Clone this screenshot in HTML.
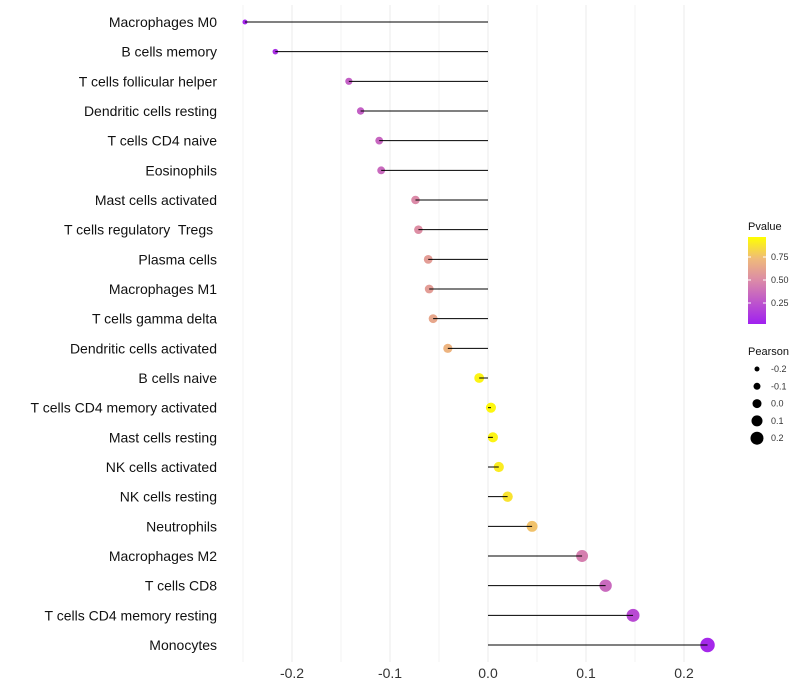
<!DOCTYPE html>
<html><head><meta charset="utf-8"><style>
body{margin:0;background:#fff;font-family:"Liberation Sans",sans-serif}
svg{display:block}
text{white-space:pre}
</style></head><body>
<svg id="c" width="800" height="700" xmlns="http://www.w3.org/2000/svg" xml:space="preserve">
<defs><linearGradient id="pg" x1="0" y1="1" x2="0" y2="0">
<stop offset="0" stop-color="#a020f0"/><stop offset="0.5" stop-color="#db8aa8"/><stop offset="0.75" stop-color="#efba7a"/><stop offset="1" stop-color="#ffff00"/></linearGradient></defs>
</svg>
<script>
const categories=["Macrophages M0","B cells memory","T cells follicular helper","Dendritic cells resting","T cells CD4 naive","Eosinophils","Mast cells activated","T cells regulatory  Tregs ","Plasma cells","Macrophages M1","T cells gamma delta","Dendritic cells activated","B cells naive","T cells CD4 memory activated","Mast cells resting","NK cells activated","NK cells resting","Neutrophils","Macrophages M2","T cells CD8","T cells CD4 memory resting","Monocytes"];
const pearson=[-0.248,-0.217,-0.142,-0.130,-0.111,-0.109,-0.074,-0.071,-0.061,-0.060,-0.056,-0.041,-0.009,0.003,0.005,0.011,0.020,0.045,0.096,0.120,0.148,0.224];
const pvalues=[0.03,0.08,0.3,0.3,0.33,0.35,0.5,0.52,0.6,0.6,0.65,0.72,0.96,0.97,0.96,0.93,0.9,0.78,0.45,0.35,0.2,0.04];
const xTicks=[-0.2,-0.1,0.0,0.1,0.2];
const xMinor=[-0.25,-0.15,-0.05,0.05,0.15];
const legP=[0.25,0.5,0.75];
const legR=[-0.2,-0.1,0.0,0.1,0.2];
const svg=document.getElementById('c');const NS="http://www.w3.org/2000/svg";
function X(v){return 488+v*980;}
function Y(i){return 22+i*29.667;}
function R(v){return 5+v*10;}
function PY(p){return 326-p*92;}
const stops=[[0,[160,32,240]],[0.5,[219,138,168]],[0.75,[239,186,122]],[1,[255,255,0]]];
function col(p){for(let i=1;i<stops.length;i++){if(p<=stops[i][0]){const a=stops[i-1],b=stops[i],t=(p-a[0])/(b[0]-a[0]);return 'rgb('+a[1].map((c,k)=>Math.round(c+(b[1][k]-c)*t)).join(',')+')';}}return 'rgb(255,255,0)';}
function el(t,a,txt){const e=document.createElementNS(NS,t);for(const k in a)e.setAttribute(k,a[k]);if(txt!==undefined)e.textContent=txt;svg.appendChild(e);return e;}
xMinor.forEach(v=>{const g=el('line',{x1:X(v),x2:X(v),y1:5,y2:662,stroke:'#f3f3f3','stroke-width':1});

});
xTicks.forEach(v=>{const g=el('line',{x1:X(v),x2:X(v),y1:5,y2:662,stroke:'#ebebeb','stroke-width':1});


const t=el('text',{x:X(v),y:678,'text-anchor':'middle','font-size':14,fill:'#333'},v.toFixed(1));

});
categories.forEach((c,i)=>{const t=el('text',{x:217,y:Y(i)+5,'text-anchor':'end','font-size':14,fill:'#111'},c);


const p=el('circle',{cx:X(pearson[i]),cy:Y(i),r:R(pearson[i]),fill:col(pvalues[i])});


const l=el('line',{x1:X(0),x2:X(pearson[i]),y1:Y(i),y2:Y(i),stroke:'#000','stroke-width':1});

});
let t=el('text',{x:748,y:230,'font-size':11,fill:'#111'},'Pvalue');


let r=el('rect',{x:748,y:237,width:18,height:87,fill:'url(#pg)'});


legP.forEach(p=>{const y=PY(p);el('line',{x1:748,x2:751,y1:y,y2:y,stroke:'#fff'});el('line',{x1:763,x2:766,y1:y,y2:y,stroke:'#fff'});
const tt=el('text',{x:771,y:y+3,'font-size':9,fill:'#333'},p.toFixed(2));

});
t=el('text',{x:748,y:355,'font-size':11,fill:'#111'},'Pearson');


legR.forEach((v,i)=>{const y=369+i*17.3;const c=el('circle',{cx:757,cy:y,r:R(v)-0.5,fill:'#000'});


const tt=el('text',{x:771,y:y+3,'font-size':9,fill:'#333'},v.toFixed(1));

});
</script>
</body></html>
